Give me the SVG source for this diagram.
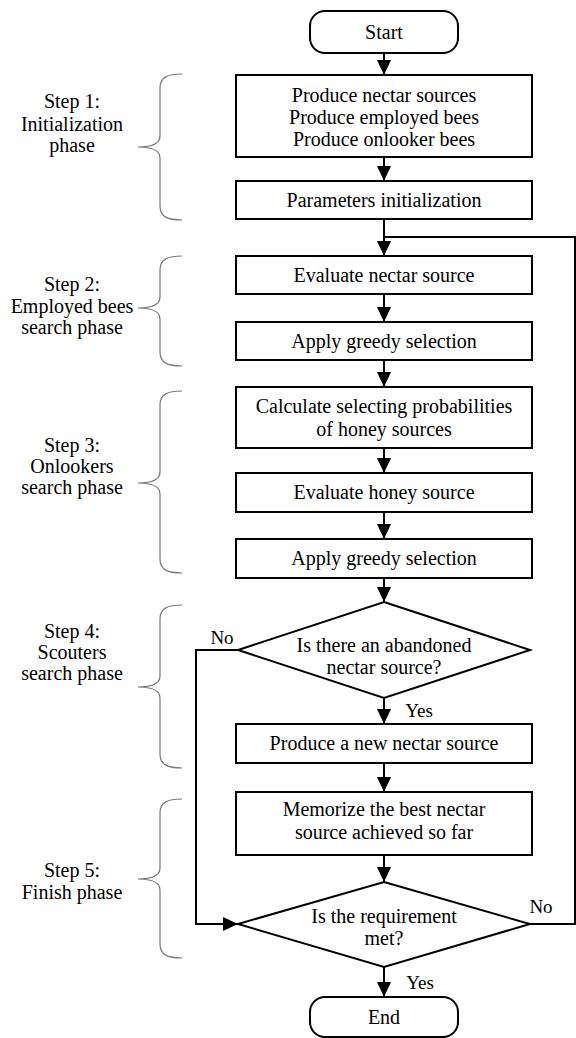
<svg xmlns="http://www.w3.org/2000/svg" width="576" height="1038" viewBox="0 0 576 1038">
<defs>
<style>
.box{fill:#fff;stroke:#000;stroke-width:2}
.t{font-family:"Liberation Serif","DejaVu Serif",serif;font-size:20px;fill:#000;text-anchor:middle}
.s{font-family:"Liberation Serif","DejaVu Serif",serif;font-size:19px;fill:#000;text-anchor:middle}
.c{fill:none;stroke:#000;stroke-width:2;stroke-linejoin:miter}
.br{fill:none;stroke:#777;stroke-width:1.2}
</style>
<marker id="ah" markerUnits="userSpaceOnUse" markerWidth="16" markerHeight="14" refX="15" refY="7" orient="auto">
<path d="M0,0 L15,7 L0,14 z" fill="#000"/>
</marker>
</defs>
<rect width="576" height="1038" fill="#fff"/>

<g id="connectors">
<line class="c" x1="384" y1="53" x2="384" y2="75" marker-end="url(#ah)"/>
<line class="c" x1="384" y1="157" x2="384" y2="181" marker-end="url(#ah)"/>
<line class="c" x1="384" y1="219" x2="384" y2="256" marker-end="url(#ah)"/>
<polyline class="c" points="530,924 575,924 575,237 384,237"/>
<line class="c" x1="384" y1="294" x2="384" y2="322" marker-end="url(#ah)"/>
<line class="c" x1="384" y1="360" x2="384" y2="387" marker-end="url(#ah)"/>
<line class="c" x1="384" y1="448" x2="384" y2="473" marker-end="url(#ah)"/>
<line class="c" x1="384" y1="512" x2="384" y2="539" marker-end="url(#ah)"/>
<line class="c" x1="384" y1="578" x2="384" y2="602" marker-end="url(#ah)"/>
<line class="c" x1="384" y1="698" x2="384" y2="724" marker-end="url(#ah)"/>
<line class="c" x1="384" y1="763" x2="384" y2="792" marker-end="url(#ah)"/>
<line class="c" x1="384" y1="855" x2="384" y2="882" marker-end="url(#ah)"/>
<line class="c" x1="384" y1="967" x2="384" y2="997" marker-end="url(#ah)"/>
<polyline class="c" points="238,650 196,650 196,924 238,924" marker-end="url(#ah)"/>
<text class="s" x="222" y="644">No</text>
<text class="s" x="419" y="717">Yes</text>
<text class="s" x="541" y="913">No</text>
<text class="s" x="420" y="989">Yes</text>
</g>

<g id="start">
<rect class="box" x="310" y="11" width="148" height="42" rx="15"/>
<text class="t" x="384" y="39">Start</text>
</g>
<g id="init">
<rect class="box" x="236" y="75" width="296" height="82"/>
<text class="t" x="384" y="102">Produce nectar sources</text>
<text class="t" x="384" y="124">Produce employed bees</text>
<text class="t" x="384" y="146">Produce onlooker bees</text>
</g>
<g id="params">
<rect class="box" x="236" y="181" width="296" height="38"/>
<text class="t" x="384" y="207">Parameters initialization</text>
</g>
<g id="evalNectar">
<rect class="box" x="236" y="256" width="296" height="38"/>
<text class="t" x="384" y="282">Evaluate nectar source</text>
</g>
<g id="greedy1">
<rect class="box" x="236" y="322" width="296" height="38"/>
<text class="t" x="384" y="348">Apply greedy selection</text>
</g>
<g id="calcProb">
<rect class="box" x="236" y="387" width="296" height="61"/>
<text class="t" x="384" y="413">Calculate selecting probabilities</text>
<text class="t" x="384" y="436">of honey sources</text>
</g>
<g id="evalHoney">
<rect class="box" x="236" y="473" width="296" height="39"/>
<text class="t" x="384" y="499">Evaluate honey source</text>
</g>
<g id="greedy2">
<rect class="box" x="236" y="539" width="296" height="39"/>
<text class="t" x="384" y="565">Apply greedy selection</text>
</g>
<g id="abandoned">
<polygon class="box" points="384,602 530,650 384,698 238,650"/>
<text class="t" x="384" y="652">Is there an abandoned</text>
<text class="t" x="384" y="674">nectar source?</text>
</g>
<g id="newNectar">
<rect class="box" x="236" y="724" width="296" height="39"/>
<text class="t" x="384" y="750">Produce a new nectar source</text>
</g>
<g id="memorize">
<rect class="box" x="236" y="792" width="296" height="63"/>
<text class="t" x="384" y="816">Memorize the best nectar</text>
<text class="t" x="384" y="839">source achieved so far</text>
</g>
<g id="requirement">
<polygon class="box" points="384,882 530,924 384,967 238,924"/>
<text class="t" x="384" y="923">Is the requirement</text>
<text class="t" x="384" y="945">met?</text>
</g>
<g id="end">
<rect class="box" x="310" y="997" width="148" height="40" rx="15"/>
<text class="t" x="384" y="1024">End</text>
</g>

<g id="step1">
<path class="br" d="M182,74 C168,74 160,77 160,88 L160,136 C160,143 152,147 138,147 C152,147 160,151 160,158 L160,206 C160,217 168,220 182,220"/>
<text class="t" x="72" y="108">Step 1:</text>
<text class="t" x="72" y="131">Initialization</text>
<text class="t" x="72" y="152">phase</text>
</g>
<g id="step2">
<path class="br" d="M182,256 C168,256 160,259 160,270 L160,297 C160,304 152,308 138,308 C152,308 160,312 160,319 L160,352 C160,363 168,366 182,366"/>
<text class="t" x="72" y="291">Step 2:</text>
<text class="t" x="72" y="313">Employed bees</text>
<text class="t" x="72" y="334">search phase</text>
</g>
<g id="step3">
<path class="br" d="M182,391 C168,391 160,394 160,405 L160,472 C160,479 152,483 138,483 C152,483 160,487 160,494 L160,559 C160,570 168,573 182,573"/>
<text class="t" x="72" y="452">Step 3:</text>
<text class="t" x="72" y="473">Onlookers</text>
<text class="t" x="72" y="494">search phase</text>
</g>
<g id="step4">
<path class="br" d="M182,605 C168,605 160,608 160,619 L160,676 C160,683 152,687 138,687 C152,687 160,691 160,698 L160,754 C160,765 168,768 182,768"/>
<text class="t" x="72" y="638">Step 4:</text>
<text class="t" x="72" y="659">Scouters</text>
<text class="t" x="72" y="680">search phase</text>
</g>
<g id="step5">
<path class="br" d="M182,799 C168,799 160,802 160,813 L160,868 C160,875 152,879 138,879 C152,879 160,883 160,890 L160,944 C160,955 168,958 182,958"/>
<text class="t" x="72" y="877">Step 5:</text>
<text class="t" x="72" y="899">Finish phase</text>
</g>
</svg>
